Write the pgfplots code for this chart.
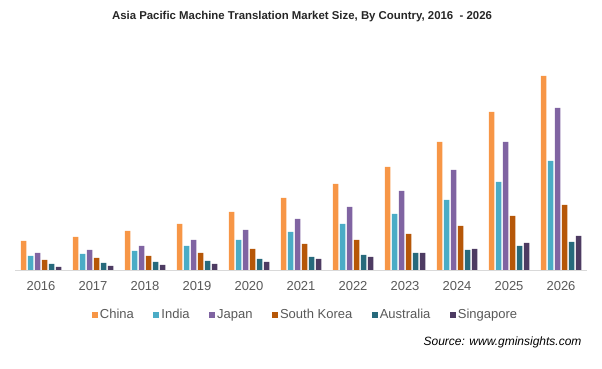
\documentclass[border=0pt]{standalone}
\usepackage{pgfplots}
\pgfplotsset{compat=1.18}
\usepackage{fontspec}
\setmainfont{Liberation Sans}
\definecolor{cChina}{HTML}{F79646}
\definecolor{cIndia}{HTML}{4BACC6}
\definecolor{cJapan}{HTML}{8064A2}
\definecolor{cKorea}{HTML}{B65708}
\definecolor{cAus}{HTML}{276A7C}
\definecolor{cSing}{HTML}{4D3B62}
\definecolor{txtgray}{HTML}{595959}
\begin{document}
\begin{tikzpicture}[x=1pt,y=1pt]
\path[use as bounding box] (0,0) rectangle (602,369);
\node[font=\bfseries\fontsize{11.4}{14}\selectfont, text=black!85] at (302,352) {Asia Pacific Machine Translation Market Size, By Country, 2016 \ - 2026};
\begin{axis}[
  at={(15pt,98pt)}, anchor=south west, scale only axis,
  width=572pt, height=200pt,
  xmin=-0.5, xmax=10.5, ymin=0, ymax=200,
  ybar=1.5pt, bar width=5.5pt,
  axis line style={draw=none},
  ytick=\empty,
  xtick={0,...,10},
  xticklabels={2016,2017,2018,2019,2020,2021,2022,2023,2024,2025,2026},
  major tick length=0pt,
  xticklabel style={font=\fontsize{13}{15}\selectfont, text=txtgray, yshift=-7pt},
  legend columns=6,
  legend style={draw=none, at={(0.508,-0.22)}, anchor=center, font=\fontsize{13}{15}\selectfont, text=txtgray,
    /tikz/every even column/.append style={column sep=17.5pt}, inner sep=0pt},
  legend image code/.code={\fill (0pt,-3pt) rectangle (6pt,3pt);},
  clip=false,
]
\addplot[fill=cChina, draw=none] coordinates {(0,30) (1,34) (2,40) (3,47) (4,59) (5,73) (6,87) (7,104) (8,129) (9,159) (10,195)};
\addplot[fill=cIndia, draw=none] coordinates {(0,15) (1,17) (2,20) (3,25) (4,31) (5,39) (6,47) (7,57) (8,71) (9,89) (10,110)};
\addplot[fill=cJapan, draw=none] coordinates {(0,18) (1,21) (2,25) (3,31) (4,41) (5,52) (6,64) (7,80) (8,101) (9,129) (10,163)};
\addplot[fill=cKorea, draw=none] coordinates {(0,11) (1,13) (2,15) (3,18) (4,22) (5,27) (6,31) (7,37) (8,45) (9,55) (10,66)};
\addplot[fill=cAus, draw=none] coordinates {(0,7) (1,8) (2,9) (3,10) (4,12) (5,14) (6,16) (7,18) (8,21) (9,25) (10,29)};
\addplot[fill=cSing, draw=none] coordinates {(0,4) (1,5) (2,6) (3,7) (4,9) (5,12) (6,14) (7,18) (8,22) (9,28) (10,35)};
\legend{China,India,Japan,South Korea,Australia,Singapore}
\draw[black!15, line width=1pt] (axis cs:-0.5,0) -- (axis cs:10.5,0);
\end{axis}
\node[anchor=east, font=\itshape\fontsize{12}{14}\selectfont, text=black] at (585,27) {Source: www.gminsights.com};
\end{tikzpicture}
\end{document}
